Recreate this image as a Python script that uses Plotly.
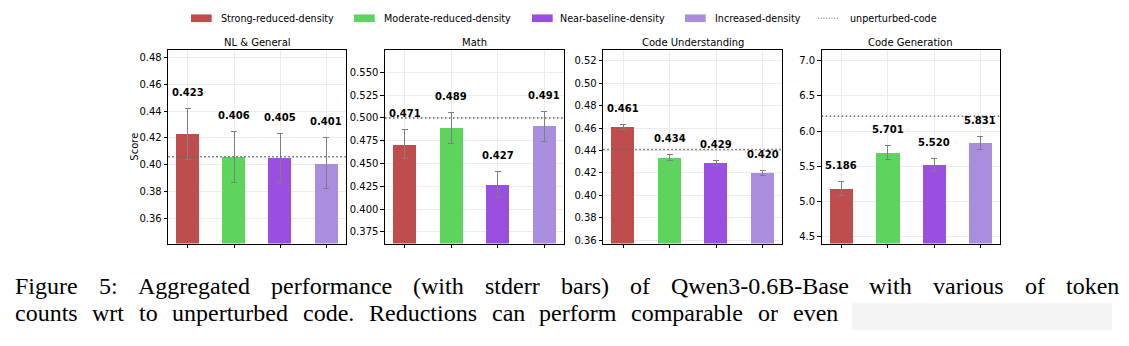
import plotly.graph_objects as go

# ---------------- data ----------------
categories = ["Strong-reduced-density", "Moderate-reduced-density",
              "Near-baseline-density", "Increased-density"]
panel_titles = ["NL & General", "Math", "Code Understanding", "Code Generation"]

nl_scores = [0.423, 0.406, 0.405, 0.401]
nl_err = [0.019, 0.019, 0.018, 0.019]
math_scores = [0.471, 0.489, 0.427, 0.491]
math_err = [0.016, 0.0165, 0.014, 0.0165]
cu_scores = [0.461, 0.434, 0.429, 0.420]
cu_err = [0.002, 0.0025, 0.002, 0.002]
cg_scores = [5.186, 5.701, 5.520, 5.831]
cg_err = [0.10, 0.10, 0.095, 0.09]
unperturbed = [0.406, 0.500, 0.441, 6.21]

y_ranges = [[0.341, 0.486], [0.362, 0.575], [0.357, 0.530], [4.406, 7.155]]
y_ticks = [[0.36, 0.38, 0.40, 0.42, 0.44, 0.46, 0.48],
           [0.375, 0.400, 0.425, 0.450, 0.475, 0.500, 0.525, 0.550],
           [0.36, 0.38, 0.40, 0.42, 0.44, 0.46, 0.48, 0.50, 0.52],
           [4.5, 5.0, 5.5, 6.0, 6.5, 7.0]]
y_fmt = [".2f", ".3f", ".2f", ".1f"]

caption_1 = ("Figure 5: Aggregated performance (with stderr bars) of "
             "Qwen3-0.6B-Base with various of token")
caption_2 = "counts wrt to unperturbed code. Reductions can perform comparable or even"

colors = ["#c04d4d", "#5dd45d", "#9b4fe1", "#a98ee0"]
scores = [nl_scores, math_scores, cu_scores, cg_scores]
errs = [nl_err, math_err, cu_err, cg_err]

# ---------------- layout geometry ----------------
W, H = 1129, 346
x_domains = [(168.3, 346.0), (385.0, 564.0), (603.3, 782.3), (821.7, 1000.0)]
y_top, y_bot = 50.0, 245.0
FONT = "DejaVu Sans"

fig = go.Figure()
annotations = []
shapes = []

for p in range(4):
    xa = "x" if p == 0 else f"x{p+1}"
    ya = "y" if p == 0 else f"y{p+1}"
    fig.add_trace(go.Bar(
        x=[0, 1, 2, 3], y=scores[p], width=0.5,
        marker=dict(color=colors, line=dict(width=0)),
        error_y=dict(type="data", array=errs[p], color="#7f7f7f",
                     thickness=1, width=3),
        xaxis=xa, yaxis=ya, showlegend=False, hoverinfo="skip"))
    for i in range(4):
        annotations.append(dict(
            x=i, y=scores[p][i] + errs[p][i], xref=xa, yref=ya,
            text=f"<b>{scores[p][i]:.3f}</b>", showarrow=False,
            yanchor="middle", xanchor="center", yshift=16,
            font=dict(family=FONT, size=10, color="black")))
    shapes.append(dict(type="line", xref=f"{xa} domain", yref=ya,
                       x0=0, x1=1, y0=unperturbed[p], y1=unperturbed[p],
                       line=dict(color="#666666", width=1.5, dash="1.5px,2.5px")))
    annotations.append(dict(
        x=(x_domains[p][0] + x_domains[p][1]) / 2 / W, y=1 - 42.7 / H,
        xref="paper", yref="paper", text=panel_titles[p], showarrow=False,
        xanchor="center", yanchor="middle",
        font=dict(family=FONT, size=10, color="black")))

    axis_common = dict(showline=True, linecolor="black", linewidth=1.2,
                       mirror=True, ticks="outside", ticklen=3.5,
                       tickcolor="black", tickwidth=1, showgrid=True,
                       gridcolor="#ececec", gridwidth=0.8, zeroline=False)
    key = "" if p == 0 else str(p + 1)
    fig.layout["xaxis" + key] = dict(
        domain=[x_domains[p][0] / W, x_domains[p][1] / W],
        range=[-0.425, 3.425], tickvals=[0, 1, 2, 3], showticklabels=False,
        anchor=ya, fixedrange=True, **axis_common)
    fig.layout["yaxis" + key] = dict(
        domain=[1 - y_bot / H, 1 - y_top / H], range=y_ranges[p],
        tickvals=y_ticks[p], tickformat=y_fmt[p], anchor=xa,
        tickfont=dict(family=FONT, size=10, color="black"),
        fixedrange=True, **axis_common)

annotations.append(dict(x=135 / W, y=1 - 147.5 / H, xref="paper", yref="paper",
                        text="Score", textangle=-90, showarrow=False,
                        xanchor="center", yanchor="middle",
                        font=dict(family=FONT, size=10, color="black")))

# manual legend
leg_y = 1 - 18.3 / H
patch_x = [191.0, 354.0, 532.0, 685.0]
text_x = [219.3, 381.7, 558.3, 713.3]
for i in range(4):
    shapes.append(dict(type="rect", xref="paper", yref="paper",
                       x0=patch_x[i] / W, x1=(patch_x[i] + 20.7) / W,
                       y0=1 - 22.2 / H, y1=1 - 14.5 / H,
                       fillcolor=colors[i], line=dict(width=0)))
    annotations.append(dict(x=text_x[i] / W, y=leg_y, xref="paper", yref="paper",
                            text=categories[i], showarrow=False,
                            xanchor="left", yanchor="middle",
                            font=dict(family=FONT, size=9.6, color="black")))
shapes.append(dict(type="line", xref="paper", yref="paper",
                   x0=818 / W, x1=839.5 / W, y0=leg_y, y1=leg_y,
                   line=dict(color="#666666", width=1, dash="1px,1.7px")))
annotations.append(dict(x=847.7 / W, y=leg_y, xref="paper", yref="paper",
                        text="unperturbed-code", showarrow=False,
                        xanchor="left", yanchor="middle",
                        font=dict(family=FONT, size=9.6, color="black")))

# ---------------- caption (justified, word by word) ----------------
CAP_FONT = "Liberation Serif"
CAP_SIZE = 24
TIMES_W = {" ": 250, "(": 333, ")": 333, "-": 333, ".": 250, ":": 278,
           "A": 722, "B": 667, "F": 556, "Q": 722, "R": 667,
           "a": 444, "b": 500, "c": 444, "d": 500, "e": 444, "f": 333,
           "g": 500, "h": 500, "i": 278, "k": 500, "l": 278, "m": 778,
           "n": 500, "o": 500, "p": 500, "q": 500, "r": 333, "s": 389,
           "t": 278, "u": 500, "v": 500, "w": 722, "x": 500, "y": 500}


def word_width(word):
    return sum(TIMES_W.get(c, 500) for c in word) * CAP_SIZE / 1000.0


def place_line(text, x_start, x_end, y_center):
    words = text.split(" ")
    widths = [word_width(w) for w in words]
    gap = (x_end - x_start - sum(widths)) / (len(words) - 1)
    x = x_start
    for w, wd in zip(words, widths):
        annotations.append(dict(x=x / W, y=1 - y_center / H, xref="paper",
                                yref="paper", text=w, showarrow=False,
                                xanchor="left", yanchor="middle", borderpad=0,
                                font=dict(family=CAP_FONT, size=CAP_SIZE,
                                          color="black")))
        x += wd + gap


place_line(caption_1, 14, 1118, 288)
place_line(caption_2, 14, 837, 315)

# faint blurred patch to the right of the second caption line
shapes.append(dict(type="rect", xref="paper", yref="paper",
                   x0=852 / W, x1=1112 / W, y0=1 - 332 / H, y1=1 - 305 / H,
                   fillcolor="#f4f4f4", line=dict(width=0), layer="below"))

fig.update_layout(width=W, height=H, margin=dict(l=0, r=0, t=0, b=0),
                  paper_bgcolor="white", plot_bgcolor="white",
                  annotations=annotations, shapes=shapes, bargap=0)
fig.write_html("out.html", config={"displayModeBar": False})
